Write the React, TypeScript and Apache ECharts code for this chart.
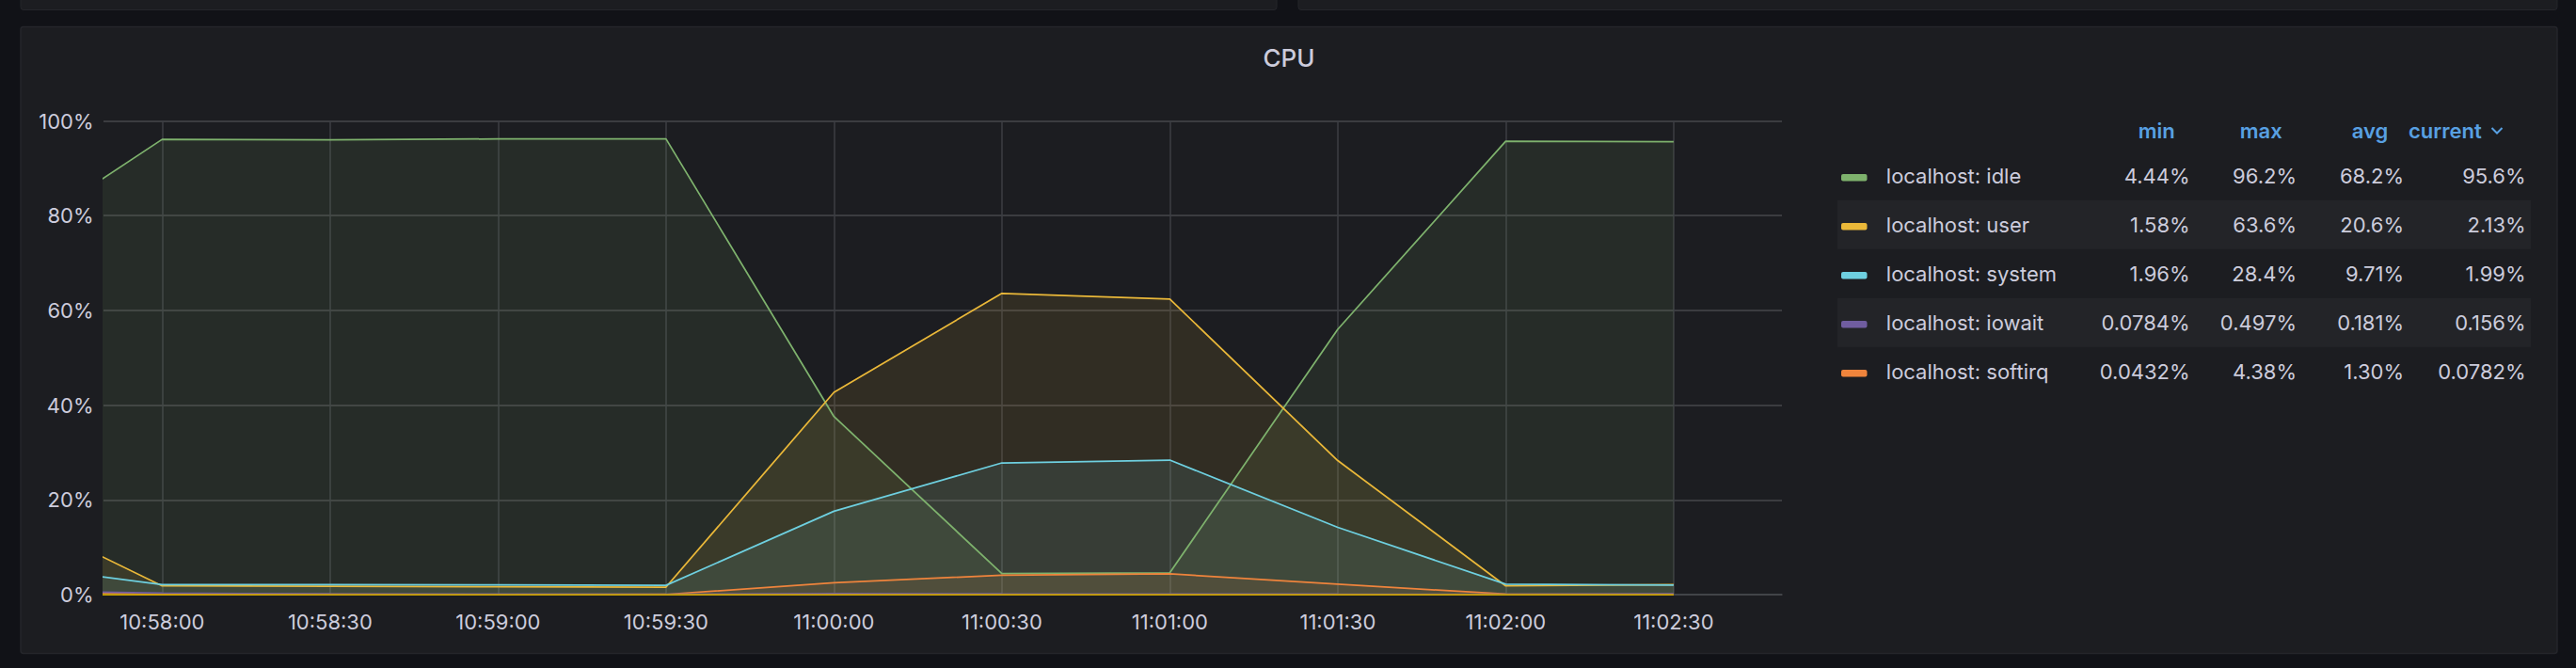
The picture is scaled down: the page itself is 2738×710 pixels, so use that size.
import React, { useEffect, useRef } from 'react';
import * as echarts from 'echarts';

// ---- data ----
const sampleTimes = ['10:57:30', '10:58:00', '10:58:30', '10:59:00', '10:59:30', '11:00:00', '11:00:30', '11:01:00', '11:01:30', '11:02:00', '11:02:30'];
const idleValues = [72.7, 96.1, 96.0, 96.2, 96.2, 37.6, 4.44, 4.6, 56.0, 95.7, 95.6];
const userValues = [19.1, 1.85, 1.75, 1.65, 1.58, 42.7, 63.6, 62.4, 28.3, 1.85, 2.13];
const systemValues = [6.8, 2.1, 2.1, 2.05, 1.96, 17.6, 27.8, 28.4, 14.2, 2.2, 1.99];
const softirqValues = [1.0, 0.05, 0.05, 0.0432, 0.05, 2.5, 4.1, 4.38, 2.2, 0.1, 0.0782];
const iowaitValues = [0.85, 0.31, 0.15, 0.12, 0.0784, 0.2, 0.15, 0.12, 0.1, 0.09, 0.156];
const zeroValues = [0, 0, 0, 0, 0, 0, 0, 0, 0, 0, 0];

const axisStart = '10:57:49.520';
const axisEnd = '11:02:49.345';
const yTicks = [0, 20, 40, 60, 80, 100];

const legendNames = ['localhost: idle', 'localhost: user', 'localhost: system', 'localhost: iowait', 'localhost: softirq'];
const legendColors = ['#7EB26D', '#EAB839', '#6ED0E0', '#705DA0', '#EF843C'];
const legendMin = ['4.44%', '1.58%', '1.96%', '0.0784%', '0.0432%'];
const legendMax = ['96.2%', '63.6%', '28.4%', '0.497%', '4.38%'];
const legendAvg = ['68.2%', '20.6%', '9.71%', '0.181%', '1.30%'];
const legendCurrent = ['95.6%', '2.13%', '1.99%', '0.156%', '0.0782%'];
const legendHeaders = ['min', 'max', 'avg', 'current'];

// ---- helpers ----
function toMs(t: string): number {
  const [hh, mm, rest] = t.split(':');
  const [ss, ms] = rest.split('.');
  return Date.UTC(2021, 0, 1, Number(hh), Number(mm), Number(ss), ms ? Number(ms) : 0);
}
const pad = (n: number) => (n < 10 ? '0' + n : '' + n);
function fmtTime(v: number): string {
  const d = new Date(v);
  return pad(d.getUTCHours()) + ':' + pad(d.getUTCMinutes()) + ':' + pad(d.getUTCSeconds());
}
function pairs(vals: number[]) {
  return sampleTimes.map((t, i) => [toMs(t), vals[i]]);
}

const TEXT = '#ccccdc';
const FONT = 'Inter';

export default function App() {
  const ref = useRef<HTMLDivElement>(null);

  useEffect(() => {
    if (!ref.current) return;
    const chart = echarts.init(ref.current, null, { renderer: 'svg' });

    const seriesDefs = [
      { name: 'localhost: idle', color: '#7EB26D', vals: idleValues, area: true },
      { name: 'localhost: user', color: '#EAB839', vals: userValues, area: true },
      { name: 'localhost: system', color: '#6ED0E0', vals: systemValues, area: true },
      { name: 'localhost: softirq', color: '#EF843C', vals: softirqValues, area: true },
      { name: 'localhost: iowait', color: '#705DA0', vals: iowaitValues, area: true },
      { name: 'localhost: nice', color: '#CCA300', vals: zeroValues, area: false },
    ];

    const graphics: any[] = [];
    // panels
    graphics.push({ type: 'rect', z: -10, shape: { x: 22, y: -10, width: 1335, height: 20.5, r: 3 }, style: { fill: '#1c1d21', stroke: '#25262b', lineWidth: 1 } });
    graphics.push({ type: 'rect', z: -10, shape: { x: 1380, y: -10, width: 1338, height: 20.5, r: 3 }, style: { fill: '#1c1d21', stroke: '#25262b', lineWidth: 1 } });
    graphics.push({ type: 'rect', z: -10, shape: { x: 22, y: 28.5, width: 2696, height: 666, r: 3 }, style: { fill: '#1c1d21', stroke: '#25262b', lineWidth: 1.5 } });
    // title
    graphics.push({ type: 'text', z: 10, style: { text: 'CPU', x: 1370, y: 61, textAlign: 'center', textVerticalAlign: 'middle', fill: TEXT, font: '500 26px ' + FONT } });

    // legend table
    const headerRight = [2311.7, 2425.7, 2538.3, 2637.7];
    legendHeaders.forEach((h, i) => {
      graphics.push({ type: 'text', z: 10, style: { text: h, x: headerRight[i], y: 139, textAlign: 'right', textVerticalAlign: 'middle', fill: '#58a0e2', font: '600 22px ' + FONT } });
    });
    graphics.push({ type: 'polyline', z: 10, shape: { points: [[2648.5, 136], [2654, 141.5], [2659.5, 136]] }, style: { stroke: '#58a0e2', lineWidth: 2, fill: null } });

    const colRight = [2327.6, 2441, 2555, 2684.6];
    legendNames.forEach((name, i) => {
      const c = 186.7 + i * 52;
      if (i % 2 === 1) {
        graphics.push({ type: 'rect', z: -5, shape: { x: 1953, y: c - 26, width: 737, height: 52 }, style: { fill: '#232428' } });
      }
      graphics.push({ type: 'rect', z: 10, shape: { x: 1957, y: c - 1.6, width: 27.5, height: 7.4, r: 2 }, style: { fill: legendColors[i] } });
      graphics.push({ type: 'text', z: 10, style: { text: name, x: 2004.8, y: c, textAlign: 'left', textVerticalAlign: 'middle', fill: TEXT, font: '22px ' + FONT } });
      const vals = [legendMin[i], legendMax[i], legendAvg[i], legendCurrent[i]];
      vals.forEach((v, j) => {
        graphics.push({ type: 'text', z: 10, style: { text: v, x: colRight[j], y: c, textAlign: 'right', textVerticalAlign: 'middle', fill: TEXT, font: '22px ' + FONT } });
      });
    });

    const option: any = {
      animation: false,
      backgroundColor: '#111217',
      textStyle: { fontFamily: FONT },
      grid: { left: 110, right: 844, top: 128.5, bottom: 78, containLabel: false },
      xAxis: {
        type: 'value',
        min: toMs(axisStart),
        max: toMs(axisEnd),
        splitNumber: 10,
        minInterval: 30000,
        maxInterval: 30000,
        axisLine: { show: true, lineStyle: { color: '#46474b', width: 1.5 } },
        axisTick: { show: false },
        axisLabel: {
          show: true,
          showMinLabel: false,
          showMaxLabel: false,
          margin: 18,
          color: TEXT,
          fontSize: 22,
          fontFamily: FONT,
          formatter: (v: number) => fmtTime(v),
        },
        splitLine: { show: true, showMinLine: false, showMaxLine: false, lineStyle: { color: '#3d3e43', width: 1.5 } },
      },
      yAxis: {
        type: 'value',
        min: yTicks[0],
        max: yTicks[yTicks.length - 1],
        interval: yTicks[1] - yTicks[0],
        axisLine: { show: false },
        axisTick: { show: false },
        axisLabel: { color: TEXT, fontSize: 22, fontFamily: FONT, margin: 10.5, formatter: '{value}%' },
        splitLine: { show: true, lineStyle: { color: '#46474b', width: 1.5 } },
      },
      series: seriesDefs.map((s) => ({
        type: 'line',
        name: s.name,
        data: pairs(s.vals),
        showSymbol: false,
        symbol: 'none',
        clip: true,
        lineStyle: { color: s.color, width: 1.75 },
        itemStyle: { color: s.color },
        areaStyle: s.area ? { color: s.color, opacity: 0.1 } : undefined,
        emphasis: { disabled: true },
      })),
      graphic: { elements: graphics },
    };

    chart.setOption(option);
    return () => chart.dispose();
  }, []);

  return (
    <div style={{ position: 'fixed', left: 0, top: 0, width: 2738, height: 710, background: '#111217' }}>
      <div ref={ref} style={{ width: 2738, height: 710 }} />
    </div>
  );
}
